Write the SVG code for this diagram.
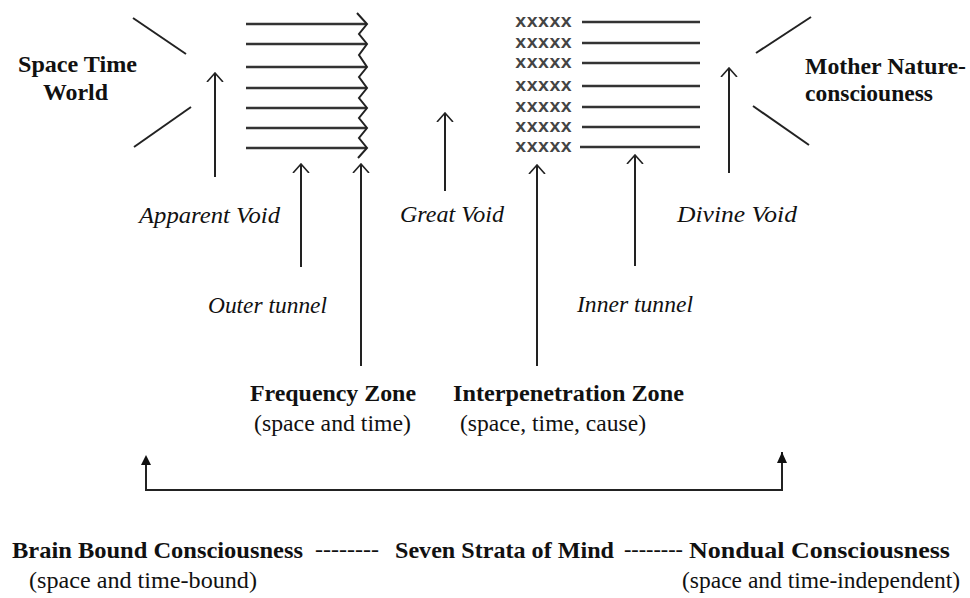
<svg xmlns="http://www.w3.org/2000/svg" width="970" height="598" viewBox="0 0 970 598">
<defs>
<style>
.ln{stroke:#222;stroke-width:2;fill:none}
.hl{stroke:#333;stroke-width:2.5;fill:none}
.bold{font-family:"Liberation Serif",serif;font-weight:bold;font-size:24px;fill:#111}
.it{font-family:"Liberation Serif",serif;font-style:italic;font-size:23px;fill:#111}
.reg{font-family:"Liberation Serif",serif;font-size:23px;fill:#111}
.xx{font-family:"Liberation Mono",monospace;font-weight:bold;font-size:19px;fill:#444}
</style>
<marker id="open" viewBox="0 0 10 18" refX="9" refY="9" markerWidth="10" markerHeight="18" markerUnits="userSpaceOnUse" orient="auto">
<path d="M0,1 L9,9 L0,17" fill="none" stroke="#222" stroke-width="1.6"/>
</marker>
</defs>
<rect width="970" height="598" fill="#fff"/>

<g id="space-time-world">
<text class="bold" x="18" y="72" textLength="119" lengthAdjust="spacingAndGlyphs">Space Time</text>
<text class="bold" x="43" y="100" textLength="65" lengthAdjust="spacingAndGlyphs">World</text>
<line class="ln" x1="133" y1="18" x2="186" y2="54"/>
<line class="ln" x1="134" y1="147" x2="191" y2="107"/>
</g>

<g id="frequency-lines">
<line class="hl" x1="246" y1="24" x2="366" y2="24"/>
<line class="hl" x1="246" y1="44" x2="366" y2="44"/>
<line class="hl" x1="246" y1="67" x2="366" y2="67"/>
<line class="hl" x1="246" y1="88" x2="366" y2="88"/>
<line class="hl" x1="246" y1="108" x2="366" y2="108"/>
<line class="hl" x1="246" y1="128" x2="366" y2="128"/>
<line class="hl" x1="246" y1="148" x2="366" y2="148"/>
<polyline class="ln" stroke-width="1.5" points="357,13 367,24 359,34 367,44 359,55 367,67 359,77 367,88 359,98 367,108 359,118 367,128 359,138 367,148 358,158"/>
</g>

<g id="interpenetration-lines">
<text class="xx" x="515" y="27" textLength="57" lengthAdjust="spacingAndGlyphs">xxxxx</text>
<text class="xx" x="515" y="48" textLength="57" lengthAdjust="spacingAndGlyphs">xxxxx</text>
<text class="xx" x="515" y="68" textLength="57" lengthAdjust="spacingAndGlyphs">xxxxx</text>
<text class="xx" x="515" y="91" textLength="57" lengthAdjust="spacingAndGlyphs">xxxxx</text>
<text class="xx" x="515" y="112" textLength="57" lengthAdjust="spacingAndGlyphs">xxxxx</text>
<text class="xx" x="515" y="132" textLength="57" lengthAdjust="spacingAndGlyphs">xxxxx</text>
<text class="xx" x="515" y="152" textLength="57" lengthAdjust="spacingAndGlyphs">xxxxx</text>
<line class="hl" x1="582" y1="22" x2="700" y2="22"/>
<line class="hl" x1="582" y1="43" x2="700" y2="43"/>
<line class="hl" x1="582" y1="63" x2="700" y2="63"/>
<line class="hl" x1="582" y1="86" x2="700" y2="86"/>
<line class="hl" x1="582" y1="107" x2="700" y2="107"/>
<line class="hl" x1="582" y1="127" x2="700" y2="127"/>
<line class="hl" x1="580" y1="147" x2="700" y2="147"/>
</g>

<g id="mother-nature">
<text class="bold" x="805" y="74" textLength="161" lengthAdjust="spacingAndGlyphs">Mother Nature-</text>
<text class="bold" x="805" y="101" textLength="128" lengthAdjust="spacingAndGlyphs">consciouness</text>
<line class="ln" x1="756" y1="53" x2="811" y2="17"/>
<line class="ln" x1="753" y1="106" x2="809" y2="145"/>
</g>

<g id="labels">
<text class="it" x="139" y="223" textLength="141" lengthAdjust="spacingAndGlyphs">Apparent Void</text>
<text class="it" x="400" y="222" textLength="104" lengthAdjust="spacingAndGlyphs">Great Void</text>
<text class="it" x="677" y="222" textLength="120" lengthAdjust="spacingAndGlyphs">Divine Void</text>
<text class="it" x="208" y="313" textLength="119" lengthAdjust="spacingAndGlyphs">Outer tunnel</text>
<text class="it" x="577" y="312" textLength="116" lengthAdjust="spacingAndGlyphs">Inner tunnel</text>
</g>

<g id="frequency-zone">
<text class="bold" x="250" y="401" textLength="166" lengthAdjust="spacingAndGlyphs">Frequency Zone</text>
<text class="reg" x="254" y="431" textLength="157" lengthAdjust="spacingAndGlyphs">(space and time)</text>
</g>

<g id="interpenetration-zone">
<text class="bold" x="453" y="401" textLength="231" lengthAdjust="spacingAndGlyphs">Interpenetration Zone</text>
<text class="reg" x="460" y="431" textLength="186" lengthAdjust="spacingAndGlyphs">(space, time, cause)</text>
</g>

<g id="bottom">
<text class="bold" x="12" y="558" textLength="291" lengthAdjust="spacingAndGlyphs">Brain Bound Consciousness</text>
<text class="reg" x="315" y="557" textLength="64" lengthAdjust="spacingAndGlyphs">--------</text>
<text class="bold" x="395" y="558" textLength="219" lengthAdjust="spacingAndGlyphs">Seven Strata of Mind</text>
<text class="reg" x="624" y="557" textLength="59" lengthAdjust="spacingAndGlyphs">--------</text>
<text class="bold" x="689" y="558" textLength="261" lengthAdjust="spacingAndGlyphs">Nondual Consciousness</text>
<text class="reg" x="29" y="588" textLength="228" lengthAdjust="spacingAndGlyphs">(space and time-bound)</text>
<text class="reg" x="682" y="588" textLength="278" lengthAdjust="spacingAndGlyphs">(space and time-independent)</text>
</g>

<g id="connectors">
<line class="ln" x1="215" y1="177" x2="215" y2="73" marker-end="url(#open)"/>
<line class="ln" x1="301" y1="267" x2="301" y2="164" marker-end="url(#open)"/>
<line class="ln" x1="361" y1="366" x2="361" y2="164" marker-end="url(#open)"/>
<line class="ln" x1="445" y1="191" x2="445" y2="113" marker-end="url(#open)"/>
<line class="ln" x1="537" y1="366" x2="537" y2="165" marker-end="url(#open)"/>
<line class="ln" x1="635" y1="266" x2="635" y2="155" marker-end="url(#open)"/>
<line class="ln" x1="729" y1="173" x2="729" y2="68" marker-end="url(#open)"/>
<polyline class="ln" points="146,458 146,490 782,490 782,452"/>
<path d="M141,465 L146,455 L151,465 Z" fill="#111"/>
<path d="M777,463 L782,452 L787,463 Z" fill="#111"/>
</g>
</svg>
